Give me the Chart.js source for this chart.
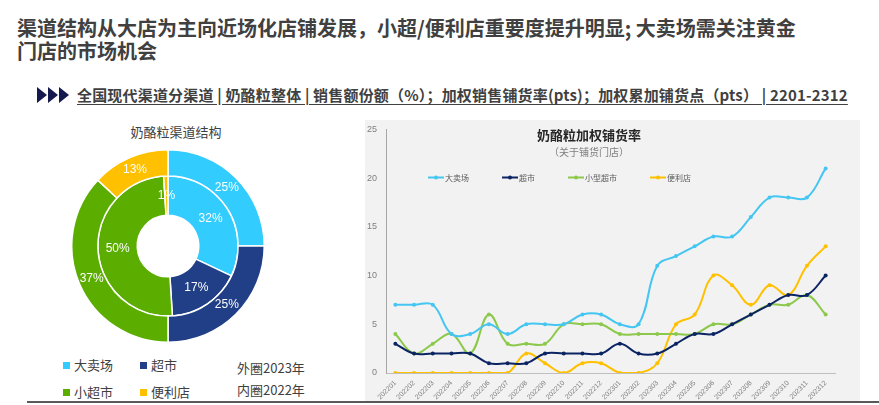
<!doctype html>
<html lang="zh">
<head>
<meta charset="utf-8">
<title>奶酪粒渠道结构 / 加权铺货率</title>
<script src="https://cdn.jsdelivr.net/npm/chart.js"></script>
<style>
  body {
    margin: 0;
    width: 879px;
    height: 405px;
    overflow: hidden;
    position: relative;
    background: #fff;
    font-family: "Noto Sans CJK SC", "Noto Sans", sans-serif;
    color: #404040;
  }
  .abs { position: absolute; }
  #headline {
    left: 17px; top: 16px;
    font-size: 20px; font-weight: bold; line-height: 23px;
    white-space: nowrap;
  }
  .tri {
    position: absolute; top: 87px; width: 0; height: 0;
    border-top: 8.5px solid transparent;
    border-bottom: 8.5px solid transparent;
    border-left: 10px solid #141a4d;
  }
  #sub {
    left: 77px; top: 84px;
    font-size: 15px; font-weight: bold; line-height: 22px;
    letter-spacing: 0.18px;
    text-decoration: underline; text-underline-offset: 3px;
    white-space: nowrap;
  }
  #pieTitle { left: 76px; width: 200px; top: 123px; text-align: center; font-size: 13px; line-height: 18px; }
  #pieBox { left: 71px; top: 149px; width: 194px; height: 194px; }
  .leg { position: absolute; font-size: 13px; line-height: 16px; white-space: nowrap; }
  .leg i { display: inline-block; width: 7px; height: 7px; margin-right: 4px; vertical-align: 1px; }
  .ring { position: absolute; left: 237px; font-size: 13px; line-height: 16px; }
  #panel { left: 365px; top: 120px; width: 495px; height: 281px; background: #f2f2f2; }
  #lineBox { left: 340px; top: 115px; width: 539px; height: 288px; }
  #lineTitle { left: 489px; width: 200px; top: 126px; text-align: center; font-size: 13px; font-weight: bold; line-height: 18px; color: #262626; }
  #lineSub { left: 489px; width: 200px; top: 144px; text-align: center; font-size: 10px; line-height: 16px; color: #7f7f7f; }
  #rule { left: 27px; top: 401px; width: 852px; height: 2px; background: #595959; }
</style>
</head>
<body>
<div id="headline" class="abs">渠道结构从大店为主向近场化店铺发展，小超/便利店重要度提升明显; 大卖场需关注黄金<br>门店的市场机会</div>
<div class="tri" style="left:37px"></div>
<div class="tri" style="left:48px"></div>
<div class="tri" style="left:59px"></div>
<div id="sub" class="abs">全国现代渠道分渠道 | 奶酪粒整体 | 销售额份额（%）；加权销售铺货率(pts)；加权累加铺货点（pts） | 2201-2312</div>

<div id="pieTitle" class="abs">奶酪粒渠道结构</div>
<div id="pieBox" class="abs"><canvas id="pie"></canvas></div>
<div id="pieLegend"></div>
<div class="ring" style="top:360px">外圈2023年</div>
<div class="ring" style="top:382px">内圈2022年</div>

<div id="panel" class="abs"></div>
<div id="lineBox" class="abs"><canvas id="line"></canvas></div>
<div id="lineTitle" class="abs">奶酪粒加权铺货率</div>
<div id="lineSub" class="abs">（关于铺货门店）</div>
<div id="rule" class="abs"></div>

<script>
// 渠道结构（销售额份额 %）
var channels = ['大卖场', '超市', '小超市', '便利店'];
var share2023 = [25, 25, 37, 13];   // 外圈
var share2022 = [32, 17, 50, 1];    // 内圈
var pieColors = ['#33ccff', '#203f86', '#5bad00', '#ffc000'];

// 加权铺货率 (pts)
var months = ['202201', '202202', '202203', '202204', '202205', '202206',
              '202207', '202208', '202209', '202210', '202211', '202212',
              '202301', '202302', '202303', '202304', '202305', '202306',
              '202307', '202308', '202309', '202310', '202311', '202312'];
var lineNames = ['大卖场', '超市', '小型超市', '便利店'];
var hyper = [7, 7, 7, 4, 4, 5, 4, 5, 5, 5, 6, 6, 5, 5, 11, 12, 13, 14, 14, 16, 18, 18, 18, 21];
var superm = [3, 2, 2, 2, 2, 1, 1, 1, 2, 2, 2, 2, 3, 2, 2, 3, 4, 4, 5, 6, 7, 8, 8, 10];
var mini = [4, 2, 3, 4, 2, 6, 3, 3, 3, 5, 5, 5, 4, 4, 4, 4, 4, 5, 5, 6, 7, 7, 8, 6];
var conv = [0, 0, 0, 0, 0, 0, 0, 2, 1, 0, 1, 1, 0, 0, 1, 5, 6, 10, 9, 7, 9, 8, 11, 13];
var lineColors = ['#45c6f2', '#0b2463', '#8cc84b', '#ffc000'];
var yTicks = [0, 5, 10, 15, 20, 25];

Chart.defaults.font.family = '"Noto Sans CJK SC", "Liberation Sans", sans-serif';
Chart.defaults.animation = false;

// 饼图图例（html）
var legendHtml = '';
channels.forEach(function (name, i) {
    var left = i % 2 === 0 ? 63 : 140;
    var top = i < 2 ? 357 : 384;
    legendHtml += '<div class="leg" style="left:' + left + 'px;top:' + top + 'px"><i style="background:' + pieColors[i] + '"></i>' + name + '</div>';
});
document.getElementById('pieLegend').innerHTML = legendHtml;

// 扇区上的百分比
var arcLabels = {
    id: 'arcLabels',
    afterDatasetsDraw: function (chart) {
        var ctx = chart.ctx;
        ctx.save();
        ctx.font = '12px "Liberation Sans", sans-serif';
        ctx.fillStyle = '#fff';
        ctx.textAlign = 'center';
        ctx.textBaseline = 'middle';
        chart.data.datasets.forEach(function (ds, i) {
            chart.getDatasetMeta(i).data.forEach(function (arc, j) {
                var p = arc.tooltipPosition();
                ctx.fillText(ds.data[j] + '%', p.x, p.y);
            });
        });
        ctx.restore();
    }
};

new Chart(document.getElementById('pie'), {
    type: 'doughnut',
    data: {
        labels: channels,
        datasets: [
            { label: '2023', data: share2023, backgroundColor: pieColors, borderColor: '#fff', borderWidth: 1.5, weight: 2 },
            { label: '2022', data: share2022, backgroundColor: pieColors, borderColor: '#fff', borderWidth: 1.5, weight: 3 }
        ]
    },
    options: {
        responsive: true,
        maintainAspectRatio: false,
        cutout: '32%',
        events: [],
        plugins: { legend: { display: false }, tooltip: { enabled: false } }
    },
    plugins: [arcLabels]
});

// 折线图图例画在绘图区里面
var lineLegend = {
    id: 'lineLegend',
    afterDraw: function (chart) {
        var ctx = chart.ctx;
        var x = 428 - 340, y = 177.5 - 115;
        ctx.save();
        ctx.font = '8px "Noto Sans CJK SC", sans-serif';
        ctx.textBaseline = 'middle';
        chart.data.datasets.forEach(function (ds) {
            ctx.strokeStyle = ds.borderColor;
            ctx.lineWidth = 2;
            ctx.beginPath();
            ctx.moveTo(x, y);
            ctx.lineTo(x + 16, y);
            ctx.stroke();
            ctx.fillStyle = ds.borderColor;
            ctx.beginPath();
            ctx.arc(x + 8, y, 2, 0, Math.PI * 2);
            ctx.fill();
            ctx.fillStyle = '#595959';
            ctx.fillText(ds.label, x + 17, y);
            x += 17 + ctx.measureText(ds.label).width + 33;
        });
        ctx.restore();
    }
};

var series = [hyper, superm, mini, conv];
new Chart(document.getElementById('line'), {
    type: 'line',
    data: {
        labels: months,
        datasets: series.map(function (vals, i) {
            return {
                label: lineNames[i],
                data: vals,
                borderColor: lineColors[i],
                backgroundColor: lineColors[i],
                pointBackgroundColor: lineColors[i],
                pointBorderWidth: 0,
                pointRadius: 2,
                borderWidth: 2,
                tension: 0.4
            };
        })
    },
    options: {
        responsive: true,
        maintainAspectRatio: false,
        events: [],
        layout: { padding: { left: 0, right: 44, top: 11, bottom: 0 } },
        plugins: { legend: { display: false }, tooltip: { enabled: false } },
        scales: {
            x: {
                offset: true,
                grid: { display: false, drawTicks: false },
                border: { display: true, color: '#bfbfbf', width: 1 },
                ticks: {
                    autoSkip: false, maxRotation: 45, minRotation: 45, padding: 6,
                    color: '#7f7f7f', font: { size: 7, family: '"Liberation Sans", sans-serif' }
                },
                afterFit: function (s) { s.height = 30; }
            },
            y: {
                min: 0, max: 25,
                grid: { display: false, drawTicks: false },
                border: { display: true, color: '#a6a6a6', width: 1 },
                afterBuildTicks: function (s) { s.ticks = yTicks.map(function (v) { return { value: v }; }); },
                ticks: {
                    padding: 9, color: '#7f7f7f',
                    font: { size: 9, family: '"Liberation Sans", sans-serif' }
                },
                afterFit: function (s) { s.width = 46; }
            }
        }
    },
    plugins: [lineLegend]
});
</script>
</body>
</html>
